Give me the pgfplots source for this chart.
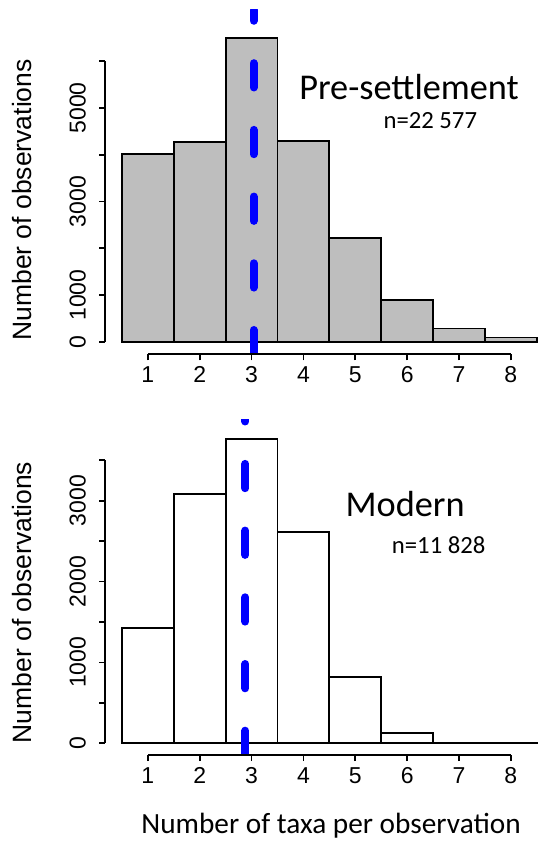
\documentclass[border=0pt]{standalone}
\usepackage{fontspec}
\setmainfont{Liberation Sans}
\newfontfamily\calibri{Carlito}
\usepackage{pgfplots}
\pgfplotsset{compat=1.18}
\definecolor{rgray}{HTML}{BEBEBE}
\definecolor{rblue}{HTML}{0000FF}
\pgfplotsset{rhist/.style={scale only axis, width=448.1pt, xmin=0.18, xmax=8.82,
  axis line style={draw=none}, tick style={black, line width=1.8pt}, tick align=outside,
  major tick length=6pt, minor tick length=6pt, xtick pos=bottom, ytick pos=left,
  xtick={1,...,8}, clip mode=individual,
  /pgf/number format/assume math mode=true, /pgf/number format/set thousands separator={},
  tick label style={font=\fontsize{23}{26}\selectfont, inner sep=0pt},
  xticklabel style={anchor=north, yshift=-6.4pt},
  yticklabel style={xshift=-13.3pt, rotate=90, anchor=south},
  ylabel={Number of observations}},
  ylab/.style={every axis y label/.style={at={(axis description cs:-0.1642,#1)}, rotate=90,
    anchor=south, inner sep=0pt, font=\fontsize{26.5}{30}\selectfont}}}

\begin{document}
\begin{tikzpicture}
% pre-settlement
\begin{axis}[rhist, ylab=0.4482, at={(105.3pt,487.7pt)}, anchor=south west, height=344.3pt,
  ymin=-263, ymax=7092, ytick={0,1000,3000,5000}, minor ytick={2000,4000,6000}]
\pgfplotstableread{
x n
1 4010
2 4275
3 6490
4 4300
5 2215
6 900
7 290
8 97
}\pre
\addplot[ybar, bar width=1, fill=rgray, draw=none] table {\pre};
\addplot[ybar, bar width=1, fill=none, draw=black, line width=1.8pt] table {\pre};
\addplot[rblue, line width=8pt, line cap=round, dash pattern=on 24.3pt off 42.4pt]
  coordinates {(3.04,-263) (3.04,7092)};
\draw[line width=1.8pt] (axis cs:1,-263) -- (axis cs:8,-263);
\draw[line width=1.8pt] (axis cs:0.18,0) -- (axis cs:0.18,6000);
\node[anchor=base, inner sep=0pt, font=\calibri\fontsize{36.3}{40}\selectfont] at (axis description cs:0.6778,0.7386) {Pre-settlement};
\node[anchor=base, inner sep=0pt, font=\calibri\fontsize{24.7}{28}\selectfont] at (axis description cs:0.7253,0.6564) {n=22 577};
\end{axis}
% modern
\begin{axis}[rhist, ylab=0.4543, at={(105.3pt,87pt)}, anchor=south west, height=335.7pt,
  ymin=-144.6, ymax=4005, ytick={0,1000,2000,3000}, minor ytick={500,1500,2500,3500},
  xlabel={Number of taxa per observation},
  every axis x label/.style={at={(axis description cs:0.5037,-0.2324)}, anchor=base,
    inner sep=0pt, font=\calibri\fontsize{29.3}{32}\selectfont}]
\pgfplotstableread{
x n
1 1421
2 3085
3 3757
4 2610
5 816
6 125
7 9
8 5
}\modern
\addplot[ybar, bar width=1, fill=none, draw=black, line width=1.8pt] table {\modern};
\addplot[rblue, line width=8pt, line cap=round, dash pattern=on 24.3pt off 42.4pt]
  coordinates {(2.88,-144.6) (2.88,4005)};
\draw[line width=1.8pt] (axis cs:1,-144.6) -- (axis cs:8,-144.6);
\draw[line width=1.8pt] (axis cs:0.18,0) -- (axis cs:0.18,3500);
\node[anchor=base, inner sep=0pt, font=\calibri\fontsize{36.3}{40}\selectfont] at (axis description cs:0.6693,0.7119) {Modern};
\node[anchor=base, inner sep=0pt, font=\calibri\fontsize{24.7}{28}\selectfont] at (axis description cs:0.744,0.6008) {n=11 828};
\end{axis}
\pgfresetboundingbox
\useasboundingbox (0,0) rectangle (538pt,842pt);
\end{tikzpicture}
\end{document}
